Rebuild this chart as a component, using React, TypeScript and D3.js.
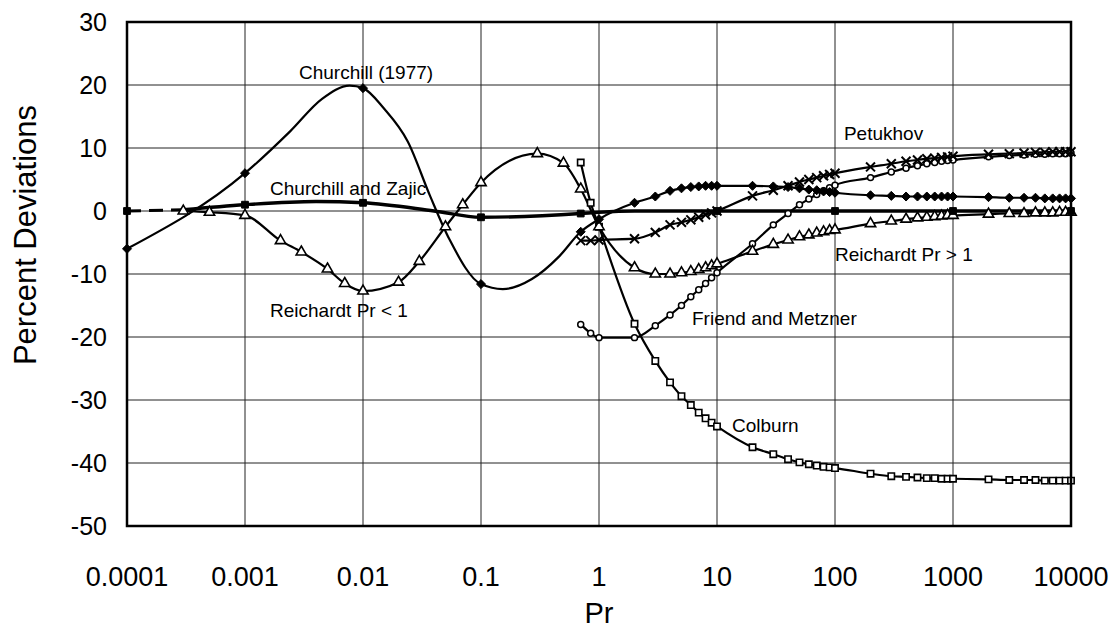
import * as d3 from 'd3';

const W = 1115;
const H = 632;
const M = { left: 127, right: 44, top: 22, bottom: 106 };

const xTicks = [0.0001, 0.001, 0.01, 0.1, 1, 10, 100, 1000, 10000];
const xTickLabels = ['0.0001', '0.001', '0.01', '0.1', '1', '10', '100', '1000', '10000'];
const yTicks = [30, 20, 10, 0, -10, -20, -30, -40, -50];

// Pr values used by the curves above Pr = 1
const prHigh = [
  2, 3, 4, 5, 6, 7, 8, 9, 10, 20, 30, 40, 50, 60, 70, 80, 90, 100, 200, 300, 400, 500, 600, 700, 800,
  900, 1000, 2000, 3000, 4000, 5000, 6000, 7000, 8000, 9000, 10000,
];

// Churchill (1977)
const churchillPr = [
  0.0001, 0.001, 0.0024, 0.0045, 0.0077, 0.01, 0.015, 0.024, 0.037, 0.054, 0.1, 0.153, 0.27, 0.46, 0.7, 1,
  ...prHigh,
];
const churchillDev = [
  -6, 6, 12.6, 17.8, 19.9, 19.5, 16.3, 11, 2.4, -4.5, -11.6, -12.4, -10.8, -7.2, -3.3, -1.3,
  1.3, 2.3, 3.2, 3.6, 3.8, 3.9, 4.0, 4.0, 4.0, 4.0, 3.9, 3.8, 3.6, 3.4, 3.3, 3.1, 3.0, 2.9,
  2.5, 2.4, 2.3, 2.3, 2.3, 2.3, 2.3, 2.3, 2.3, 2.2, 2.1, 2.1, 2.1, 2.0, 2.0, 2.0, 2.0, 2.0,
];
const churchillMarks = [0.0001, 0.001, 0.01, 0.1, 0.7, 1, ...prHigh];

// Churchill and Zajic
const czPr = [0.0001, 0.0003, 0.001, 0.004, 0.01, 0.04, 0.1, 0.7, 1, 2, 10, 100, 1000, 10000];
const czDev = [0, 0.2, 1, 1.5, 1.3, 0, -1, -0.4, -0.2, 0, 0, 0, 0, 0];
const czMarks = [0.0001, 0.001, 0.01, 0.1, 0.7, 10, 100, 1000, 10000];

// Reichardt (Pr < 1 and Pr > 1)
const reichPr = [
  0.0003, 0.0005, 0.001, 0.002, 0.003, 0.005, 0.007, 0.01, 0.02, 0.03, 0.05, 0.07, 0.1, 0.3, 0.5, 0.7, 1,
  ...prHigh,
];
const reichDev = [
  0, -0.2, -0.7, -4.7, -6.5, -9.2, -11.5, -12.7, -11.3, -8, -2.5, 1, 4.5, 9.1, 7.6, 3.5, -2.5,
  -9, -10, -10, -9.8, -9.6, -9.3, -9.0, -8.7, -8.4, -6.4, -5.3, -4.6, -4.1, -3.8, -3.5, -3.3, -3.1,
  -3.0, -2.0, -1.6, -1.3, -1.1, -1.0, -0.9, -0.8, -0.7, -0.7, -0.5, -0.4, -0.4, -0.3, -0.3, -0.3, -0.2,
  -0.2, -0.2,
];

// Petukhov
const petPr = [0.7, 0.85, 1, ...prHigh];
const petDev = [
  -4.7, -4.7, -4.6, -4.4, -3.4, -2.2, -1.8, -1.4, -1.0, -0.6, -0.3, 0, 2.4, 3.3, 4.0, 4.6, 5.0, 5.3,
  5.6, 5.8, 6.0, 7.0, 7.5, 7.9, 8.1, 8.3, 8.4, 8.5, 8.6, 8.7, 9.0, 9.1, 9.2, 9.3, 9.3, 9.4, 9.4, 9.4,
  9.4,
];

// Friend and Metzner
const friendPr = [0.7, 0.85, 1, ...prHigh];
const friendDev = [
  -18, -19.4, -20.1, -20.1, -18.2, -16.5, -15.0, -13.6, -12.5, -11.5, -10.6, -9.8, -5.2, -2.2, -0.4,
  1.0, 1.9, 2.6, 3.2, 3.7, 4.1, 5.3, 6.2, 6.8, 7.2, 7.5, 7.7, 7.9, 8.0, 8.1, 8.6, 8.8, 8.9, 9.0, 9.0,
  9.1, 9.1, 9.1, 9.2,
];

// Colburn
const colPr = [0.7, 0.85, 1, ...prHigh];
const colDev = [
  7.7, 1.3, -2.5, -17.9, -23.8, -27.2, -29.4, -30.8, -32.0, -32.9, -33.6, -34.2, -37.5, -38.6, -39.4,
  -39.9, -40.2, -40.4, -40.6, -40.7, -40.8, -41.7, -42.1, -42.2, -42.3, -42.4, -42.4, -42.5, -42.5,
  -42.5, -42.6, -42.7, -42.7, -42.7, -42.8, -42.8, -42.8, -42.8, -42.8,
];

// curve labels, anchored at (Pr, deviation)
const labelText = [
  'Churchill (1977)',
  'Churchill and Zajic',
  'Petukhov',
  'Reichardt Pr > 1',
  'Reichardt Pr < 1',
  'Friend and Metzner',
  'Colburn',
];
const labelPr = [0.00287, 0.00163, 119, 100, 0.00163, 6.14, 13.4];
const labelDev = [21, 2.5, 11.3, -7.9, -16.8, -18.1, -35.1];

const FONT = "'Liberation Sans', Arial, Helvetica, sans-serif";

type Pt = { x: number; y: number };

const zip = (xs: number[], ys: number[]): Pt[] => xs.map((x, i) => ({ x, y: ys[i] }));

const App = () => {
  const x = d3
    .scaleLog()
    .domain([0.0001, 10000])
    .range([M.left, W - M.right]);
  const y = d3
    .scaleLinear()
    .domain([-50, 30])
    .range([H - M.bottom, M.top]);

  const line = d3
    .line<Pt>()
    .x((d) => x(d.x))
    .y((d) => y(d.y))
    .curve(d3.curveMonotoneX);

  const churchill = zip(churchillPr, churchillDev);
  const cz = zip(czPr, czDev);
  const reich = zip(reichPr, reichDev);
  const pet = zip(petPr, petDev);
  const friend = zip(friendPr, friendDev);
  const col = zip(colPr, colDev);

  const sym = (type: d3.SymbolType, size: number) => d3.symbol().type(type).size(size)() || '';
  const diamond = sym(d3.symbolDiamond2, 52);
  const fSquare = sym(d3.symbolSquare, 46);
  const hSquare = sym(d3.symbolSquare, 40);
  const triangle = sym(d3.symbolTriangle, 46);
  const cross = sym(d3.symbolX, 54);
  const circle = sym(d3.symbolCircle, 28);

  const marks = (pts: Pt[], path: string, fill: string, stroke: string, sw: number, key: string) =>
    pts.map((d, i) => (
      <path
        key={key + i}
        d={path}
        transform={`translate(${x(d.x)},${y(d.y)})`}
        fill={fill}
        stroke={stroke}
        strokeWidth={sw}
      />
    ));

  const x0 = M.left;
  const x1 = W - M.right;
  const y0 = M.top;
  const y1 = H - M.bottom;

  return (
    <div style={{ position: 'absolute', left: 0, top: 0, background: '#fff' }}>
      <svg width={W} height={H} style={{ display: 'block' }}>
        <rect width={W} height={H} fill="#fff" />

        {/* grid */}
        <g stroke="#222" strokeWidth={1}>
          {xTicks.map((t) => (
            <line key={'gx' + t} x1={x(t)} x2={x(t)} y1={y0} y2={y1} />
          ))}
          {yTicks.map((t) => (
            <line key={'gy' + t} x1={x0} x2={x1} y1={y(t)} y2={y(t)} />
          ))}
        </g>

        {/* curves */}
        <g fill="none" stroke="#000">
          <path d={line(churchill) || ''} strokeWidth={2.2} />
          <path d={line(reich) || ''} strokeWidth={2.2} />
          <path d={line(pet) || ''} strokeWidth={2.2} />
          <path d={line(friend) || ''} strokeWidth={2.2} />
          <path d={line(col) || ''} strokeWidth={2.2} />
          <path d={line(cz.slice(0, 2)) || ''} strokeWidth={3} strokeDasharray="14 8" />
          <path d={line(cz.slice(1)) || ''} strokeWidth={3.4} />
        </g>

        {/* markers */}
        <g>
          {marks(col, hSquare, '#fff', '#000', 1.6, 'co')}
          {marks(friend, circle, '#fff', '#000', 1.5, 'fm')}
          {marks(reich, triangle, '#fff', '#000', 1.6, 'rh')}
          {marks(pet, cross, 'none', '#000', 2, 'pe')}
          {marks(
            churchill.filter((d) => churchillMarks.includes(d.x)),
            diamond,
            '#000',
            '#000',
            1,
            'ch'
          )}
          {marks(
            cz.filter((d) => czMarks.includes(d.x)),
            fSquare,
            '#000',
            '#000',
            1,
            'cz'
          )}
        </g>

        {/* frame */}
        <rect x={x0} y={y0} width={x1 - x0} height={y1 - y0} fill="none" stroke="#000" strokeWidth={2.5} />

        {/* curve labels */}
        <g fontFamily={FONT} fontSize={19} fill="#000">
          {labelText.map((t, i) => (
            <text key={t} x={x(labelPr[i])} y={y(labelDev[i])}>
              {t}
            </text>
          ))}
        </g>

        {/* axes text */}
        <g fontFamily={FONT} fontSize={27} fill="#000">
          {xTicks.map((t, i) => (
            <text key={'tx' + t} x={x(t)} y={586} textAnchor="middle">
              {xTickLabels[i]}
            </text>
          ))}
        </g>
        <g fontFamily={FONT} fontSize={25} fill="#000">
          {yTicks.map((t) => (
            <text key={'ty' + t} x={107} y={y(t)} textAnchor="end" dominantBaseline="central">
              {t}
            </text>
          ))}
        </g>
        <text x={(x0 + x1) / 2} y={623} fontFamily={FONT} fontSize={29} textAnchor="middle">
          Pr
        </text>
        <text
          transform={`translate(36,235) rotate(-90)`}
          fontFamily={FONT}
          fontSize={31}
          textAnchor="middle"
        >
          Percent Deviations
        </text>
      </svg>
    </div>
  );
};

export default App;
